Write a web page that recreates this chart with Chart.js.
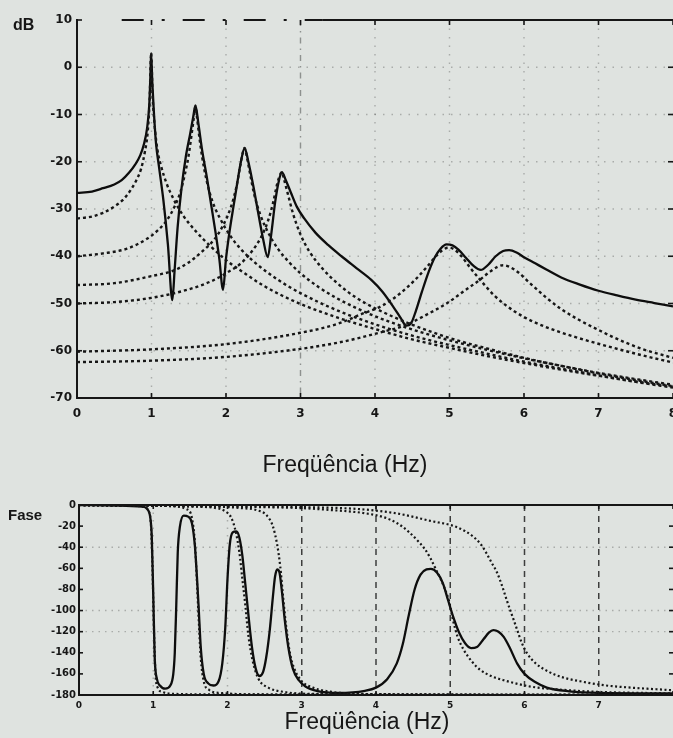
<!DOCTYPE html>
<html><head><meta charset="utf-8">
<script src="https://cdn.jsdelivr.net/npm/chart.js@4.4.1/dist/chart.umd.min.js"></script>
<style>
html,body{margin:0;padding:0;background:#dfe3e0;width:673px;height:738px;overflow:hidden;}
#wrap{position:relative;width:673px;height:738px;overflow:hidden;background:#dfe3e0;}
#c1{position:absolute;left:0;top:0;}
#c2{position:absolute;left:0;top:480px;}
</style></head><body>
<div id="wrap">
<canvas id="c1" width="700" height="490"></canvas>
<canvas id="c2" width="700" height="258"></canvas>
</div>
<script>
// ---------- tick values ----------
const xTicks = [0,1,2,3,4,5,6,7,8];
const magTicks = [-70,-60,-50,-40,-30,-20,-10,0,10];
const phaseTicks = [-180,-160,-140,-120,-100,-80,-60,-40,-20,0];

// ---------- magnitude (dB) ----------
const freqTotal = [0,0.2,0.35,0.5,0.6,0.7,0.78,0.85,0.9,0.94,0.97,0.985,0.995,1.01,1.03,1.06,1.10,1.16,1.22,1.28,1.31,1.35,1.40,1.46,1.52,1.56,1.59,1.63,1.68,1.74,1.80,1.86,1.91,1.96,2.00,2.05,2.10,2.15,2.20,2.25,2.30,2.37,2.44,2.50,2.56,2.61,2.66,2.71,2.75,2.80,2.87,2.95,3.05,3.20,3.37,3.55,3.75,3.95,4.10,4.25,4.35,4.42,4.48,4.55,4.63,4.72,4.80,4.88,4.96,5.04,5.12,5.22,5.32,5.42,5.52,5.62,5.72,5.80,5.90,6.00,6.15,6.30,6.50,6.75,7.00,7.25,7.50,7.75,8.00];
const magTotal  = [-26.6,-26.3,-25.6,-24.8,-23.9,-22.3,-20.6,-18.6,-16.2,-13.0,-8.0,-2.0,3.0,-3.0,-9.0,-16.0,-21.0,-28.2,-37.5,-49.3,-43.0,-34.0,-26.0,-19.0,-14.0,-10.5,-8.1,-12.0,-17.6,-23.0,-29.0,-35.0,-40.5,-47.1,-40.5,-34.5,-29.5,-24.6,-20.0,-17.1,-20.0,-25.4,-31.5,-36.5,-40.2,-35.0,-28.5,-24.0,-22.2,-23.8,-26.5,-29.5,-32.0,-35.0,-37.6,-40.0,-42.5,-45.0,-47.5,-50.8,-53.2,-54.7,-54.3,-51.5,-47.5,-43.3,-40.3,-38.4,-37.5,-37.7,-38.6,-40.3,-42.0,-42.9,-41.8,-40.0,-38.9,-38.7,-39.2,-40.2,-41.5,-42.8,-44.5,-46.0,-47.3,-48.3,-49.2,-49.9,-50.6];

const freqM1 = [0,0.2,0.35,0.5,0.62,0.72,0.8,0.86,0.91,0.95,0.975,0.995,1.015,1.04,1.08,1.13,1.2,1.3,1.43,1.6,1.8,2.0,2.25,2.5,2.75,3.0,3.5,4.0,4.5,5.0,5.5,6.0,6.5,7.0,7.5,8.0];
const magM1  = [-32.0,-31.6,-30.8,-29.5,-28.0,-26.0,-23.8,-21.5,-18.0,-13.5,-7.0,3.0,-6.0,-12.0,-17.5,-21.0,-24.5,-28.0,-31.5,-34.8,-38.0,-40.8,-43.6,-46.2,-48.3,-50.1,-53.0,-55.4,-57.6,-59.4,-61.1,-62.6,-64.0,-65.3,-66.6,-67.8];

const freqM2 = [0,0.35,0.67,0.94,1.1,1.21,1.3,1.39,1.45,1.5,1.54,1.57,1.59,1.61,1.64,1.68,1.74,1.82,1.92,2.05,2.2,2.4,2.7,3.0,3.5,4.0,4.5,5.0,5.5,6.0,6.5,7.0,7.5,8.0];
const magM2  = [-40.0,-39.4,-38.4,-36.3,-34.3,-32.3,-29.8,-26.3,-22.5,-18.5,-14.0,-10.5,-8.3,-10.5,-14.5,-19.0,-24.0,-28.5,-32.0,-35.5,-38.5,-41.5,-45.0,-47.8,-51.5,-54.4,-56.8,-58.8,-60.6,-62.3,-63.8,-65.2,-66.5,-67.6];

const freqM3 = [0,0.5,1.0,1.3,1.5,1.7,1.85,1.97,2.07,2.14,2.19,2.23,2.25,2.28,2.32,2.38,2.46,2.56,2.7,2.85,3.0,3.25,3.5,4.0,4.5,5.0,5.5,6.0,6.5,7.0,7.5,8.0];
const magM3  = [-46.1,-45.7,-44.2,-43.0,-41.3,-38.7,-36.3,-33.2,-29.4,-25.3,-21.0,-17.8,-17.1,-19.0,-22.3,-27.0,-31.2,-34.8,-38.5,-41.3,-43.6,-46.6,-49.0,-52.7,-55.5,-57.8,-59.8,-61.6,-63.2,-64.7,-66.0,-67.2];

const freqM4 = [0,0.5,1.0,1.5,1.8,2.0,2.2,2.35,2.47,2.56,2.63,2.69,2.73,2.75,2.78,2.83,2.9,3.0,3.12,3.3,3.5,3.75,4.0,4.5,5.0,5.5,6.0,6.5,7.0,7.5,8.0];
const magM4  = [-50.0,-49.7,-48.8,-47.0,-45.3,-43.6,-41.5,-38.9,-36.0,-32.7,-28.8,-24.5,-22.6,-22.2,-23.8,-26.8,-31.0,-35.4,-39.0,-42.7,-45.8,-48.8,-51.0,-54.5,-57.3,-59.5,-61.5,-63.2,-64.8,-66.2,-67.5];

const freqM5 = [0,1.0,2.0,3.0,3.5,3.81,4.08,4.35,4.55,4.7,4.8,4.9,4.98,5.06,5.16,5.28,5.39,5.5,5.6,5.75,5.97,6.28,6.73,7.18,7.62,8.0];
const magM5  = [-60.2,-59.7,-58.6,-56.2,-54.3,-52.3,-50.6,-47.7,-44.8,-42.2,-40.3,-38.8,-38.2,-38.5,-40.0,-42.5,-44.6,-46.6,-48.3,-50.3,-52.6,-54.9,-57.3,-59.3,-61.1,-62.5];

const freqM6 = [0,1.0,2.0,3.0,3.5,3.81,4.1,4.39,4.7,4.98,5.2,5.39,5.55,5.65,5.72,5.8,5.93,6.06,6.28,6.5,6.73,7.0,7.18,7.4,7.62,8.0];
const magM6  = [-62.4,-62.1,-61.3,-59.6,-58.3,-57.2,-56.0,-54.7,-52.3,-49.8,-47.3,-45.2,-43.2,-42.2,-41.9,-42.2,-43.5,-45.4,-48.5,-51.2,-53.4,-55.6,-57.0,-58.5,-59.8,-61.5];

// ---------- phase (degrees) ----------
const freqPhase = [0,0.5,0.85,0.92,0.96,0.98,1.0,1.02,1.05,1.09,1.16,1.23,1.27,1.29,1.31,1.33,1.36,1.41,1.47,1.52,1.56,1.59,1.61,1.64,1.68,1.74,1.81,1.88,1.93,1.97,2.0,2.03,2.07,2.12,2.16,2.2,2.24,2.28,2.33,2.38,2.43,2.48,2.52,2.57,2.61,2.64,2.67,2.70,2.73,2.77,2.82,2.88,2.96,3.05,3.2,3.5,3.85,4.0,4.15,4.28,4.36,4.44,4.52,4.6,4.68,4.74,4.82,4.9,4.97,5.04,5.12,5.2,5.28,5.36,5.45,5.52,5.58,5.65,5.72,5.8,5.9,6.0,6.15,6.3,6.6,7.0,8.0];
const phaseTotal = [0,-0.5,-1.5,-4,-12,-30,-85,-145,-165,-171,-174,-171,-160,-140,-95,-45,-20,-10,-11,-17,-38,-70,-95,-135,-160,-169,-171,-167,-150,-116,-70,-38,-26,-25,-31,-48,-75,-103,-135,-155,-162,-158,-145,-118,-88,-68,-61,-64,-80,-108,-135,-155,-166,-172,-176,-178,-176,-173,-165,-150,-132,-105,-80,-66,-61,-60.5,-64,-74,-90,-106,-121,-131,-135.5,-134.5,-127,-121,-118.5,-120,-125,-135,-150,-160,-168,-173,-176.5,-178,-178.5];

const freqP1 = [0,0.7,0.88,0.94,0.97,0.99,1.0,1.01,1.03,1.06,1.12,1.3,2.0,8.0];
const phaseP1 = [0,-0.5,-2,-6,-20,-60,-90,-120,-160,-173,-177,-179,-179.5,-180];
const freqP2 = [0,1.2,1.45,1.52,1.56,1.59,1.61,1.64,1.68,1.75,1.9,2.5,8.0];
const phaseP2 = [0,-1,-4,-12,-35,-75,-105,-145,-167,-175,-178,-179.5,-180];
const freqP3 = [0,1.5,1.85,1.97,2.05,2.11,2.16,2.2,2.24,2.28,2.34,2.42,2.55,2.75,3.2,8.0];
const phaseP3 = [0,-1.5,-3,-6,-12,-25,-45,-70,-95,-123,-148,-165,-173,-177,-179,-180];
const freqP4 = [0,1.8,2.2,2.4,2.53,2.61,2.67,2.71,2.75,2.79,2.84,2.9,3.0,3.15,3.4,3.8,8.0];
const phaseP4 = [0,-1.5,-3,-5,-10,-20,-38,-58,-88,-115,-140,-155,-167,-173,-177,-179,-180];
const freqP5 = [0,2.0,3.0,3.38,3.83,4.1,4.28,4.45,4.55,4.65,4.73,4.8,4.87,4.93,4.98,5.04,5.1,5.18,5.3,5.4,5.55,5.72,6.08,6.5,6.98,8.0];
const phaseP5 = [0,-1.5,-3,-4.7,-7.6,-11.5,-17,-26,-33,-41,-50,-60,-70,-80,-90,-110,-125,-137,-149,-156,-162,-166,-172,-175,-177,-178.5];
const freqP6 = [0,3.0,3.8,4.28,4.73,5.09,5.31,5.42,5.49,5.56,5.63,5.7,5.76,5.83,5.9,5.96,6.03,6.15,6.3,6.5,6.75,7.1,7.43,8.0];
const phaseP6 = [0,-2,-4,-8,-15,-21,-30,-38,-46,-55,-64,-77,-90,-104,-118,-130,-140,-150,-157,-163,-167,-171,-173,-175.5];

// ---------- helpers ----------
function pts(xs, ys){ return xs.map((x,i)=>({x:x, y:ys[i]})); }
const INK = '#161616';
function dotted(xs, ys, dash, w){ return {data: pts(xs, ys), borderColor: INK, borderWidth: w || 2.4, borderDash: dash || [3,3], pointRadius: 0, fill: false, cubicInterpolationMode: 'monotone'}; }
function solid(xs, ys){ return {data: pts(xs, ys), borderColor: '#0d0d0d', borderWidth: 2.3, pointRadius: 0, fill: false, cubicInterpolationMode: 'monotone'}; }

function seg(ctx, x1, y1, x2, y2, color, width, dash){
  ctx.save(); ctx.strokeStyle = color; ctx.lineWidth = width; ctx.setLineDash(dash || []);
  ctx.beginPath(); ctx.moveTo(x1, y1); ctx.lineTo(x2, y2); ctx.stroke(); ctx.restore();
}

const decor = {
  id: 'decor',
  beforeDatasetsDraw(chart, args, o){
    const {ctx, chartArea: a, scales: {x, y}} = chart;
    (o.h || []).forEach(g => { const py = y.getPixelForValue(g.v); seg(ctx, a.left, py, a.right, py, g.c, g.w, g.d); });
    (o.v || []).forEach(g => { const px = x.getPixelForValue(g.v); seg(ctx, px, a.top, px, a.bottom, g.c, g.w, g.d); });
  },
  afterDatasetsDraw(chart, args, o){
    const {ctx, chartArea: a, scales: {x, y}} = chart;
    (o.top || []).forEach(s => { seg(ctx, x.getPixelForValue(s.from), a.top, x.getPixelForValue(s.to), a.top, INK, 2, s.d); });
    const tl = o.tl || 5;
    x.ticks.forEach(t => { const px = x.getPixelForValue(t.value);
      seg(ctx, px, a.bottom, px, a.bottom - tl, INK, 1.6); seg(ctx, px, a.top, px, a.top + tl, INK, 1.6); });
    y.ticks.forEach(t => { const py = y.getPixelForValue(t.value);
      seg(ctx, a.left, py, a.left + tl, py, INK, 1.6); seg(ctx, a.right, py, a.right - tl, py, INK, 1.6); });
  },
  afterDraw(chart, args, o){
    const ctx = chart.ctx;
    (o.texts || []).forEach(t => { ctx.save(); ctx.font = t.font; ctx.fillStyle = INK; ctx.textAlign = t.align || 'left'; ctx.textBaseline = 'middle'; ctx.fillText(t.t, t.x, t.y); ctx.restore(); });
  }
};

const faint = 'rgba(30,30,30,0.28)';

// ---------- magnitude chart ----------
new Chart(document.getElementById('c1'), {
  type: 'line',
  data: { datasets: [
    dotted(freqM1, magM1), dotted(freqM2, magM2), dotted(freqM3, magM3),
    dotted(freqM4, magM4), dotted(freqM5, magM5), dotted(freqM6, magM6),
    solid(freqTotal, magTotal)
  ]},
  options: {
    responsive: false, animation: false, devicePixelRatio: 1,
    layout: { padding: { left: 0, top: 20, right: 27, bottom: 0 } },
    plugins: { legend: { display: false }, tooltip: { enabled: false },
      decor: {
        h: magTicks.filter(v => v > -70 && v < 10).map(v => ({v: v, c: faint, w: 1.4, d: [1.5, 7]})),
        v: xTicks.filter(v => v > 0 && v < 8).map(v => ({v: v, c: v === 3 ? 'rgba(30,30,30,0.42)' : faint, w: 1.4, d: v === 3 ? [6, 5, 1.5, 5] : [1.5, 7]})),
        top: [{from: 0.6, to: 3.3, d: [22, 18, 3, 18]}, {from: 3.3, to: 8, d: []}],
        tl: 5,
        texts: [
          {t: 'dB', x: 13, y: 26, font: 'bold 16px "Liberation Sans", Arial, sans-serif'},
          {t: 'Freqüência (Hz)', x: 345, y: 466, align: 'center', font: '23px "Liberation Sans", Arial, sans-serif'}
        ]
      }
    },
    scales: {
      x: { type: 'linear', min: 0, max: 8,
        afterBuildTicks: s => { s.ticks = xTicks.map(v => ({value: v})); },
        afterFit: s => { s.height = 92; },
        grid: { display: false, drawTicks: false },
        border: { display: true, color: INK, width: 2 },
        ticks: { padding: 9, color: INK, font: { family: '"DejaVu Sans", sans-serif', weight: 'bold', size: 12 }, maxRotation: 0, autoSkip: false } },
      y: { type: 'linear', min: -70, max: 10,
        afterBuildTicks: s => { s.ticks = magTicks.map(v => ({value: v})); },
        afterFit: s => { s.width = 77; },
        grid: { display: false, drawTicks: false },
        border: { display: true, color: INK, width: 2 },
        ticks: { padding: 5, color: INK, font: { family: '"DejaVu Sans", sans-serif', weight: 'bold', size: 12 }, autoSkip: false } }
    }
  },
  plugins: [decor]
});

// ---------- phase chart ----------
new Chart(document.getElementById('c2'), {
  type: 'line',
  data: { datasets: [
    dotted(freqP1, phaseP1, [2,2.5], 2.2), dotted(freqP2, phaseP2, [2,2.5], 2.2), dotted(freqP3, phaseP3, [2,2.5], 2.2),
    dotted(freqP4, phaseP4, [2,2.5], 2.2), dotted(freqP5, phaseP5, [2,2.5], 2.2), dotted(freqP6, phaseP6, [2,2.5], 2.2),
    solid(freqPhase, phaseTotal)
  ]},
  options: {
    responsive: false, animation: false, devicePixelRatio: 1,
    layout: { padding: { left: 0, top: 25, right: 27, bottom: 0 } },
    plugins: { legend: { display: false }, tooltip: { enabled: false },
      decor: {
        h: [-40, -100, -120].map(v => ({v: v, c: faint, w: 1.4, d: [1.5, 5]})),
        v: xTicks.filter(v => v > 0 && v < 8).map(v => ({v: v, c: v >= 3 ? 'rgba(20,20,20,0.8)' : faint, w: 1.5, d: v >= 3 ? [6, 5] : [1.5, 6]})),
        top: [{from: 0, to: 8, d: []}],
        tl: 4,
        texts: [
          {t: 'Fase', x: 8, y: 36, font: 'bold 15px "Liberation Sans", Arial, sans-serif'},
          {t: 'Freqüência (Hz)', x: 367, y: 243, align: 'center', font: '23px "Liberation Sans", Arial, sans-serif'}
        ]
      }
    },
    scales: {
      x: { type: 'linear', min: 0, max: 8,
        afterBuildTicks: s => { s.ticks = xTicks.map(v => ({value: v})); },
        afterFit: s => { s.height = 43; },
        grid: { display: false, drawTicks: false },
        border: { display: true, color: INK, width: 2 },
        ticks: { padding: 5, color: INK, font: { family: '"DejaVu Sans", sans-serif', weight: 'bold', size: 9 }, maxRotation: 0, autoSkip: false,
          callback: v => (v === 8 ? '' : String(v)) } },
      y: { type: 'linear', min: -180, max: 0,
        afterBuildTicks: s => { s.ticks = phaseTicks.map(v => ({value: v})); },
        afterFit: s => { s.width = 79; },
        grid: { display: false, drawTicks: false },
        border: { display: true, color: INK, width: 2 },
        ticks: { padding: 3, color: INK, font: { family: '"DejaVu Sans", sans-serif', weight: 'bold', size: 10 }, autoSkip: false } }
    }
  },
  plugins: [decor]
});
</script>
</body></html>
